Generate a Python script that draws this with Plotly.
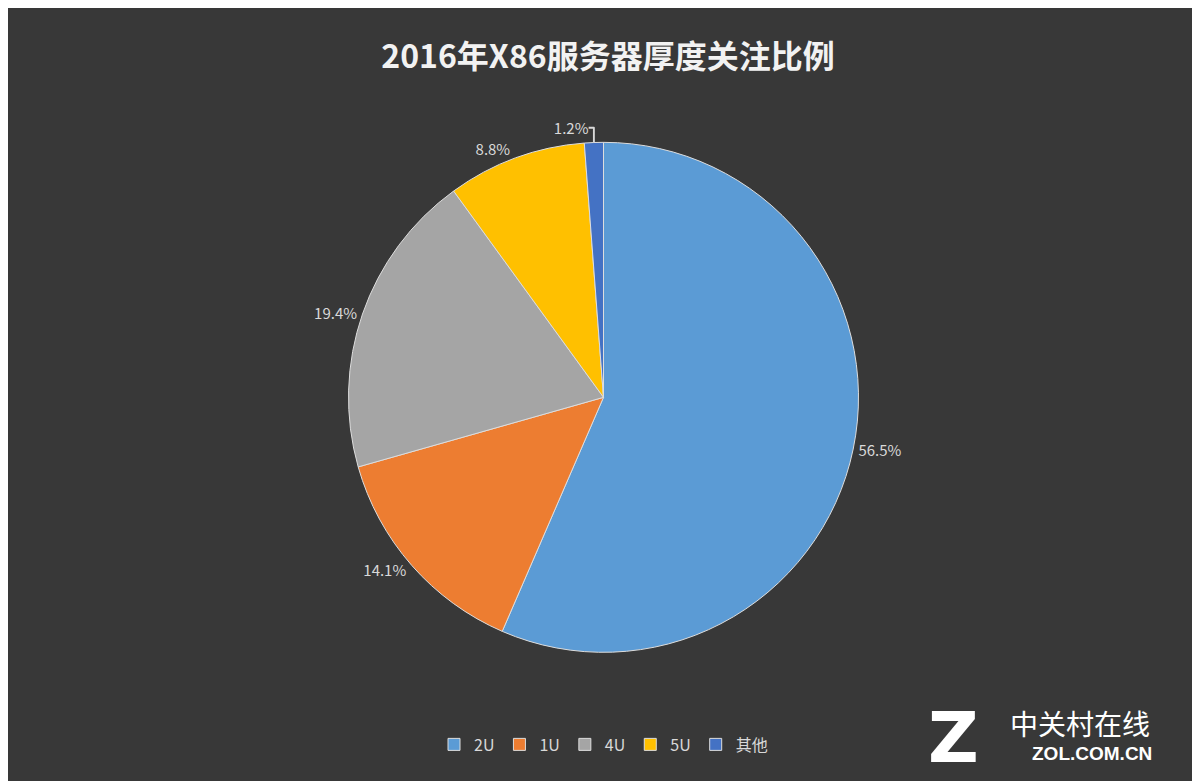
import plotly.graph_objects as go

labels = ['2U', '1U', '4U', '5U', '其他']
values = [56.5, 14.1, 19.4, 8.8, 1.2]
colors = ['#5b9bd5', '#ed7d31', '#a5a5a5', '#ffc000', '#4472c4']

fig = go.Figure()
_ = fig.add_trace(
        go.Pie(
            labels=labels,
            values=values,
            sort=False,
            direction='clockwise',
            rotation=0,
            marker={'colors': colors, 'line': {'color': '#dddddd', 'width': 1}},
            texttemplate='%{percent:.1%}',
            textposition='outside',
            textfont={'color': '#d9d9d9', 'size': 15, 'family': 'Noto Sans CJK SC'},
            domain={'x': [0.1, 0.9], 'y': [0.175, 0.828]},
            )
        )
_ = fig.add_annotation(
        text='中关村在线', x=1.04, y=0.085, xref='paper', yref='paper',
        xanchor='right', yanchor='middle', showarrow=False,
        font={'color': 'white', 'size': 28, 'family': 'Noto Sans CJK SC'})
_ = fig.add_annotation(
        text='<b>ZOL.COM.CN</b>', x=1.042, y=0.045, xref='paper', yref='paper',
        xanchor='right', yanchor='middle', showarrow=False,
        font={'color': 'white', 'size': 19, 'family': 'Liberation Sans'})
_ = fig.add_annotation(
        text='<b>Z</b>', x=0.872, y=0.065, xref='paper', yref='paper',
        yanchor='middle', showarrow=False,
        font={'color': 'white', 'size': 70, 'family': 'DejaVu Sans'})
_ = fig.update_layout(
        width=1200, height=781,
        paper_bgcolor='#383838',
        margin={'l': 0, 'r': 0, 't': 0, 'b': 0},
        title={
            'text': '<b>2016年X86服务器厚度关注比例</b>',
            'x': 0.5, 'y': 0.937, 'xanchor': 'center', 'yanchor': 'middle',
            'font': {'color': '#f2f2f2', 'size': 32, 'family': 'Noto Sans CJK SC'},
            },
        legend={
            'orientation': 'h', 'x': 0.5, 'xanchor': 'center', 'y': 0.057,
            'yanchor': 'middle',
            'font': {'color': '#d9d9d9', 'size': 16, 'family': 'Noto Sans CJK SC'},
            },
        )
fig.write_html("out.html")
